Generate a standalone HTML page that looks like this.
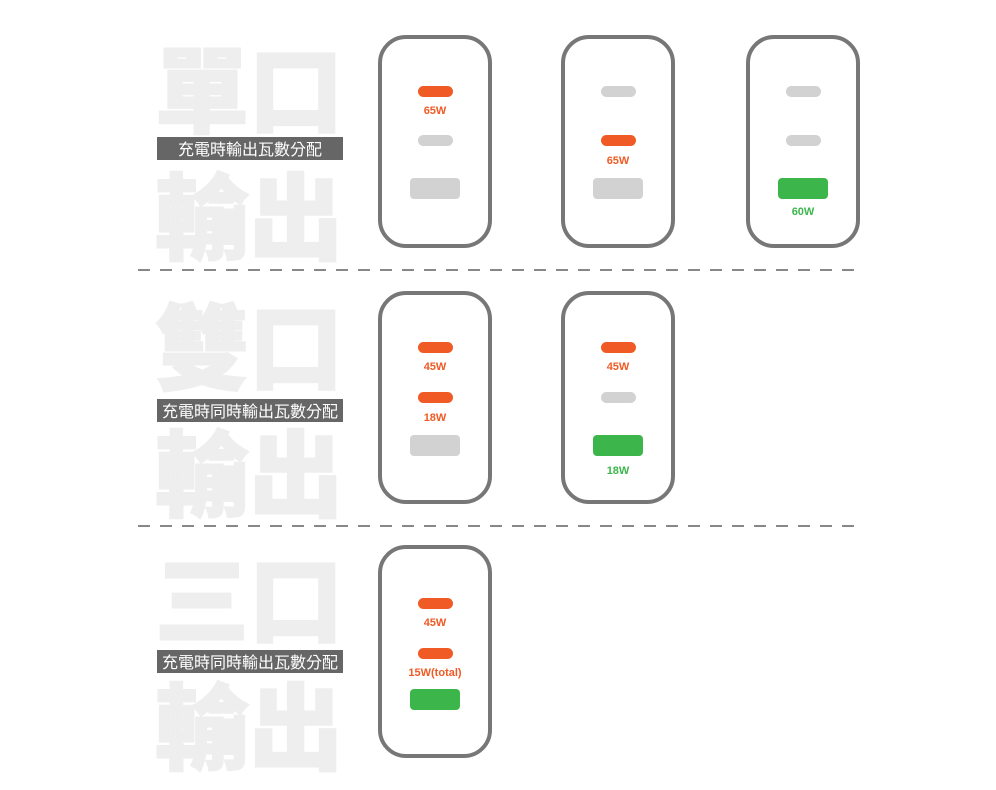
<!DOCTYPE html>
<html><head><meta charset="utf-8"><style>
body{margin:0;width:996px;height:790px;background:#fff;position:relative;overflow:hidden;font-family:"Liberation Sans","Noto Sans CJK TC",sans-serif}
.big{position:absolute;font-size:94px;font-weight:900;color:#eeeeee;line-height:94px;font-family:"Noto Sans CJK TC",sans-serif;-webkit-text-stroke:2px #eeeeee}
.lab{position:absolute;left:157px;width:186px;height:23px;background:#666;color:#fff;font-size:16px;line-height:23px;text-align:center;font-family:"Noto Sans CJK TC",sans-serif;white-space:nowrap}
.ch{position:absolute;width:106px;height:205px;border:4px solid #777;border-radius:28px;box-sizing:content-box}
.p{position:absolute;width:35px;height:11px;border-radius:6px;left:36px}
.r{position:absolute;width:50px;height:21px;border-radius:4px;left:28px}
.o{background:#f05a24}.g{background:#d2d2d2}.gr{background:#3cb64a}
.t{position:absolute;left:0;width:106px;text-align:center;font-size:11px;font-weight:bold}
.to{color:#f05a24}.tg{color:#3cb64a}
</style></head><body>
<div class="big" style="left:155px;top:38px">單口</div>
<div class="big" style="left:155px;top:165px">輸出</div>
<div class="lab" style="top:137px">充電時輸出瓦數分配</div>
<div class="big" style="left:155px;top:295px">雙口</div>
<div class="big" style="left:155px;top:422px">輸出</div>
<div class="lab" style="top:399px">充電時同時輸出瓦數分配</div>
<div class="big" style="left:155px;top:548px">三口</div>
<div class="big" style="left:155px;top:675px">輸出</div>
<div class="lab" style="top:650px">充電時同時輸出瓦數分配</div>
<svg style="position:absolute;left:0;top:0" width="996" height="790">
<line x1="138" y1="270" x2="864" y2="270" stroke="#888" stroke-width="2" stroke-dasharray="12 10"/>
<line x1="138" y1="526" x2="864" y2="526" stroke="#888" stroke-width="2" stroke-dasharray="12 10"/>
</svg>

<div class="ch" style="left:378px;top:35px">
<div class="p o" style="top:47px"></div><div class="t to" style="top:66px">65W</div>
<div class="p g" style="top:96px"></div><div class="r g" style="top:139px"></div></div>
<div class="ch" style="left:561px;top:35px">
<div class="p g" style="top:47px"></div><div class="p o" style="top:96px"></div><div class="t to" style="top:116px">65W</div>
<div class="r g" style="top:139px"></div></div>
<div class="ch" style="left:746px;top:35px">
<div class="p g" style="top:47px"></div><div class="p g" style="top:96px"></div>
<div class="r gr" style="top:139px"></div><div class="t tg" style="top:167px">60W</div></div>

<div class="ch" style="left:378px;top:291px">
<div class="p o" style="top:47px"></div><div class="t to" style="top:66px">45W</div>
<div class="p o" style="top:97px"></div><div class="t to" style="top:117px">18W</div>
<div class="r g" style="top:140px"></div></div>
<div class="ch" style="left:561px;top:291px">
<div class="p o" style="top:47px"></div><div class="t to" style="top:66px">45W</div>
<div class="p g" style="top:97px"></div>
<div class="r gr" style="top:140px"></div><div class="t tg" style="top:170px">18W</div></div>

<div class="ch" style="left:378px;top:545px">
<div class="p o" style="top:49px"></div><div class="t to" style="top:68px">45W</div>
<div class="p o" style="top:99px"></div><div class="t to" style="top:118px">15W(total)</div>
<div class="r gr" style="top:140px"></div></div>
</body></html>
